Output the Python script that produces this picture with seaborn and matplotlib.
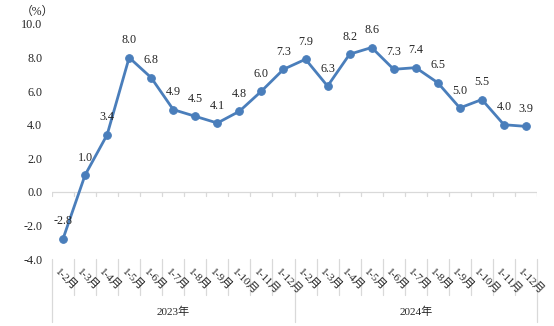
import matplotlib
matplotlib.use('Agg')
import matplotlib.pyplot as plt
import seaborn as sns
import pandas as pd
from matplotlib.transforms import blended_transform_factory

months = ['1-2月', '1-3月', '1-4月', '1-5月', '1-6月', '1-7月',
          '1-8月', '1-9月', '1-10月', '1-11月', '1-12月']
years = ['2023年', '2024年']
values_2023 = [-2.8, 1.0, 3.4, 8.0, 6.8, 4.9, 4.5, 4.1, 4.8, 6.0, 7.3]
values_2024 = [7.9, 6.3, 8.2, 8.6, 7.3, 7.4, 6.5, 5.0, 5.5, 4.0, 3.9]
yticks = [-4, -2, 0, 2, 4, 6, 8, 10]

sns.set_style('white')
plt.rcParams['font.family'] = ['Liberation Serif', 'Noto Sans CJK SC', 'DejaVu Sans']
plt.rcParams['axes.unicode_minus'] = False

values = values_2023 + values_2024
labels = months + months
df = pd.DataFrame({'pos': range(len(values)), 'value': values})

fig = plt.figure(figsize=(5.54, 3.26), dpi=100)
ax = fig.add_axes([52 / 554, 1 - 259 / 326, (537 - 52) / 554, (259 - 24) / 326])

color = '#4a7ebb'
sns.lineplot(data=df, x='pos', y='value', ax=ax, color=color, linewidth=2.0,
             marker='o', markersize=5.5, markeredgecolor=color, clip_on=False, zorder=3)

n = len(values)
ax.set_xlim(-0.5, n - 0.5)
ax.set_ylim(-4, 10)
ax.set_yticks(yticks)
ax.set_yticklabels([f'{v:.1f}' for v in yticks], fontsize=8.7)
ax.tick_params(axis='y', length=0, pad=7)
ax.set_xticks([])
ax.set_xlabel('')
ax.set_ylabel('')
for s in ax.spines.values():
    s.set_visible(False)

grey = '#d9d9d9'
ax.axhline(0, color=grey, lw=0.9, zorder=1)
for i in range(n + 1):
    ax.plot([i - 0.5, i - 0.5], [0, -0.25], color=grey, lw=0.9, zorder=1)

for i, v in enumerate(values):
    ax.annotate(f'{v:.1f}', (i, v), xytext=(0, 12.5), textcoords='offset points',
                ha='center', va='center', fontsize=8.7)

tr = blended_transform_factory(ax.transData, ax.transAxes)
for i in range(n + 1):
    long_ = (i % 11 == 0)
    ax.plot([i - 0.5, i - 0.5], [0, -0.268 if long_ else -0.153], color=grey, lw=0.9,
            transform=tr, clip_on=False)
for i, lab in enumerate(labels):
    ax.text(i - 0.1, -0.03, lab, transform=tr, rotation=-45, rotation_mode='anchor',
            ha='left', va='top', fontsize=8)
for k, y in enumerate(years):
    ax.text(k * 11 + 5, -0.226, y, transform=tr, ha='center', va='center', fontsize=8)

fig.text(37 / 554, 1 - 12 / 326, '（%）', ha='center', va='center', fontsize=8.5)

fig.savefig('out.png', dpi=100)
